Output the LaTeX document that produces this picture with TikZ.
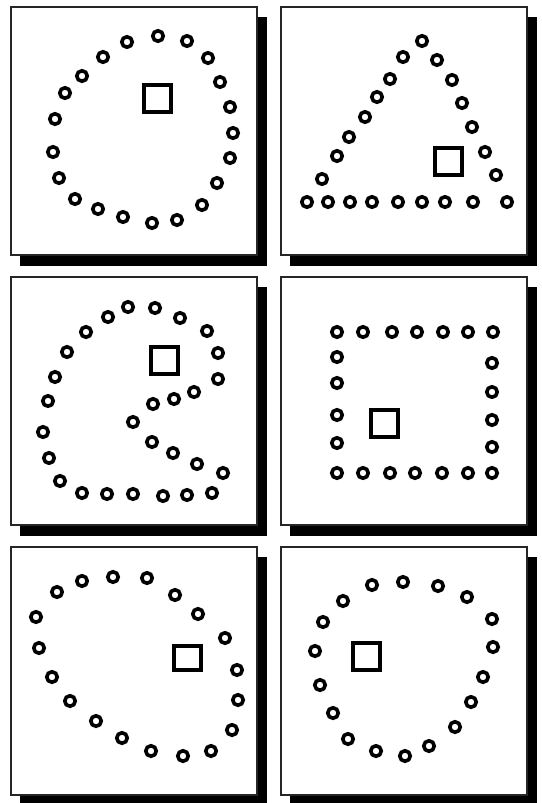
\documentclass[tikz,border=0pt]{standalone}
\usetikzlibrary{positioning}

\begin{document}
\begin{tikzpicture}[
  x=1pt, y=-1pt,
  shadow/.style={fill=black},
  frame/.style={draw=black!85, fill=white, line width=1.8pt},
  dot/.style={circle, draw, line width=3.6pt, minimum size=10.5pt, inner sep=0pt},
  goal/.style={rectangle, draw, line width=4pt, minimum width=27pt, minimum height=27pt, inner sep=0pt}
]
\useasboundingbox (0,0) rectangle (541,803);

% panels with drop shadow
\foreach \px/\py in {11/7, 281/7, 11/277, 281/277, 11/547, 281/547} {
  \fill[shadow] (\px+9,\py+10) rectangle (\px+256,\py+259);
  \draw[frame] (\px,\py) rectangle (\px+246,\py+248);
}

% circle
\foreach \x/\y [count=\i] in {127/42, 158/36, 187/41, 208/58, 220/82, 230/107, 233/133,
    230/158, 217/183, 202/205, 177/220, 152/223, 123/217, 98/209, 75/199, 59/178,
    53/152, 55/119, 65/93, 82/76, 103/57}
  \node[dot] (ring\i) at (\x,\y) {};
\node[goal] (ringgoal) at (157,98) {};

% triangle
\foreach \x/\y [count=\i] in {422/41, 403/57, 390/79, 377/97, 365/117, 349/137, 337/156,
    322/179, 307/202, 328/202, 350/202, 372/202, 398/202, 422/202, 445/202, 473/202,
    507/202, 496/175, 485/152, 472/127, 462/103, 452/80, 437/60}
  \node[dot] (tri\i) at (\x,\y) {};
\node[goal] (trigoal) at (448,161) {};

% spiral
\foreach \x/\y [count=\i] in {128/307, 155/308, 180/318, 207/331, 218/353, 218/379,
    194/392, 174/399, 153/404, 133/422, 152/442, 173/453, 197/464, 223/473, 212/493,
    187/495, 163/496, 133/494, 107/494, 82/493, 60/481, 49/458, 43/432, 48/401,
    55/377, 67/352, 86/332, 108/317}
  \node[dot] (curl\i) at (\x,\y) {};
\node[goal] (curlgoal) at (164,360) {};

% square
\foreach \x/\y [count=\i] in {337/332, 363/332, 392/332, 417/332, 443/332, 468/332,
    493/332, 492/363, 492/392, 492/420, 492/447, 492/473, 468/473, 442/473, 415/473,
    390/473, 363/473, 337/473, 337/443, 337/415, 337/383, 337/357}
  \node[dot] (quad\i) at (\x,\y) {};
\node[goal] (quadgoal) at (384,423) {};

% egg
\foreach \x/\y [count=\i] in {57/592, 82/581, 113/577, 147/578, 175/595, 198/614,
    225/638, 237/670, 238/700, 232/730, 211/751, 183/756, 151/751, 122/738, 96/721,
    70/701, 52/677, 39/648, 36/617}
  \node[dot] (egg\i) at (\x,\y) {};
\node[goal, minimum height=24pt] (egggoal) at (187,658) {};

% round
\foreach \x/\y [count=\i] in {372/585, 403/582, 438/586, 467/597, 492/619, 493/647,
    483/677, 471/702, 455/727, 429/746, 405/756, 376/751, 348/739, 333/713, 320/685,
    315/651, 323/622, 343/601}
  \node[dot] (loop\i) at (\x,\y) {};
\node[goal] (loopgoal) at (366,656) {};
\end{tikzpicture}
\end{document}
